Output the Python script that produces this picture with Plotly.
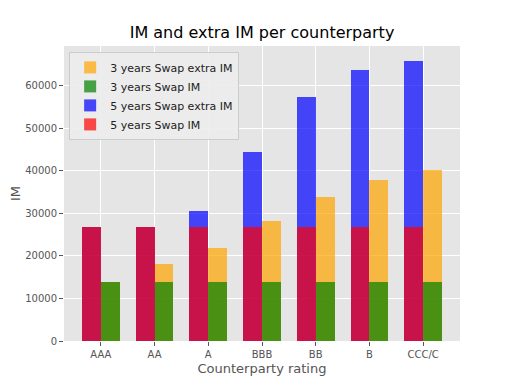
import plotly.graph_objects as go

ratings = ["AAA", "AA", "A", "BBB", "BB", "B", "CCC/C"]

im_5y = [26700, 26700, 26700, 26700, 26700, 26700, 26700]
extra_im_5y = [0, 0, 3900, 17600, 30700, 37000, 39100]

im_3y = [13800, 13800, 13800, 13800, 13800, 13800, 13800]
extra_im_3y = [0, 4200, 8100, 14300, 20100, 24100, 26400]

width = 0.35
pos = list(range(len(ratings)))
x_5y = [p - width / 2 for p in pos]
x_3y = [p + width / 2 for p in pos]

total_5y = [a + b for a, b in zip(im_5y, extra_im_5y)]
total_3y = [a + b for a, b in zip(im_3y, extra_im_3y)]

fig = go.Figure()
# 3 jaar: totaal (oranje) met IM (groen) eroverheen
fig.add_trace(go.Bar(x=x_3y, y=total_3y, width=width, name="3 years Swap extra IM",
                     marker=dict(color="orange", line=dict(width=0)), opacity=0.7))
fig.add_trace(go.Bar(x=x_3y, y=im_3y, width=width, name="3 years Swap IM",
                     marker=dict(color="green", line=dict(width=0)), opacity=0.7))
# 5 jaar: totaal (blauw) met IM (rood) eroverheen
fig.add_trace(go.Bar(x=x_5y, y=total_5y, width=width, name="5 years Swap extra IM",
                     marker=dict(color="blue", line=dict(width=0)), opacity=0.7))
fig.add_trace(go.Bar(x=x_5y, y=im_5y, width=width, name="5 years Swap IM",
                     marker=dict(color="red", line=dict(width=0)), opacity=0.7))

axis_style = dict(
    automargin=False,
    showline=False,
    showgrid=True,
    gridcolor="white",
    gridwidth=1,
    zeroline=False,
    ticks="outside",
    ticklen=4,
    tickcolor="#555555",
    tickfont=dict(size=10, color="#555555"),
)

fig.update_xaxes(
    tickvals=pos,
    ticktext=ratings,
    range=[-0.685, 6.685],
    title=dict(text="Counterparty rating", font=dict(size=13, color="#555555"), standoff=4),
    **axis_style,
)
fig.update_yaxes(
    range=[0, 69300],
    dtick=10000,
    tickformat="d",
    title=dict(text="IM", font=dict(size=13, color="#555555"), standoff=19),
    **axis_style,
)

# de pagina heeft 8px body-marge, dus de figuur is iets kleiner
fig.update_layout(
    width=504,
    height=376,
    barmode="overlay",
    bargap=0,
    title=dict(text="IM and extra IM per counterparty", x=0.504, xanchor="center",
               y=0.934, yanchor="middle", font=dict(size=16, color="black")),
    font=dict(family="DejaVu Sans, sans-serif"),
    plot_bgcolor="#E5E5E5",
    paper_bgcolor="white",
    margin=dict(l=56, r=52, t=38, b=43),
    legend=dict(
        x=0.013, y=0.98, xanchor="left", yanchor="top",
        bgcolor="rgba(236,236,236,0.9)",
        bordercolor="#cccccc",
        borderwidth=1,
        font=dict(size=11, color="#222222"),
        tracegroupgap=0,
        itemwidth=30,
    ),
    showlegend=True,
)

fig.write_html("out.html")
